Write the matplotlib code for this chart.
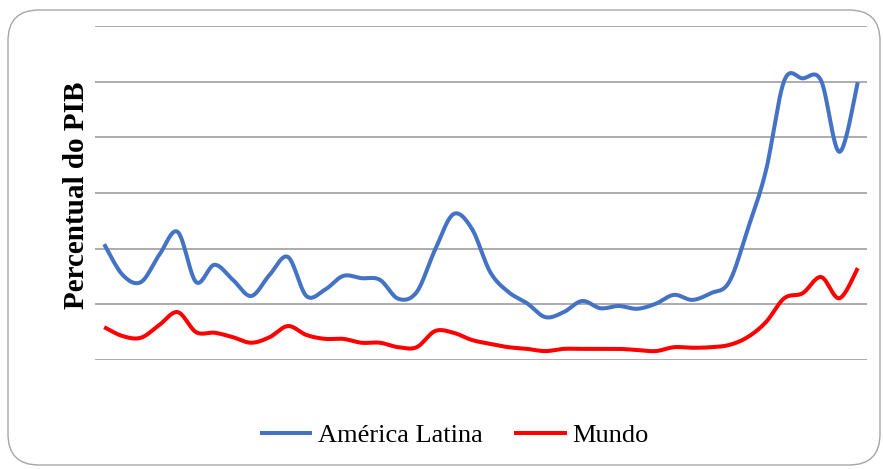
import numpy as np
import matplotlib.pyplot as plt
from matplotlib.patches import FancyBboxPatch

# valores em unidades de grade (sem rótulos no eixo)
america_latina = [2.08, 1.53, 1.40, 1.89, 2.30, 1.40, 1.71, 1.44, 1.15, 1.53,
                  1.85, 1.15, 1.26, 1.51, 1.47, 1.44, 1.10, 1.22, 1.98, 2.62,
                  2.36, 1.58, 1.22, 1.02, 0.77, 0.86, 1.06, 0.93, 0.97, 0.92,
                  1.01, 1.17, 1.08, 1.20, 1.40, 2.34, 3.40, 5.02, 5.06, 5.02,
                  3.74, 4.99]
mundo = [0.59, 0.43, 0.40, 0.63, 0.86, 0.50, 0.49, 0.41, 0.31, 0.41,
         0.61, 0.45, 0.38, 0.38, 0.31, 0.31, 0.23, 0.23, 0.52, 0.49,
         0.36, 0.29, 0.23, 0.20, 0.16, 0.20, 0.20, 0.20, 0.20, 0.18,
         0.16, 0.23, 0.22, 0.23, 0.27, 0.41, 0.68, 1.11, 1.20, 1.49,
         1.11, 1.65]
series = ["América Latina", "Mundo"]
cores = ["#4472C4", "#FF0000"]


def suavizar(y, n=24):
    # curva suavizada tipo Excel (bezier com pontos de controle Catmull-Rom)
    y = np.asarray(y, dtype=float)
    x = np.arange(len(y), dtype=float)
    xp = np.concatenate([[x[0]], x, [x[-1]]])
    yp = np.concatenate([[y[0]], y, [y[-1]]])
    t = np.linspace(0, 1, n)[:, None]
    xs, ys = [], []
    for i in range(len(y) - 1):
        j = i + 1
        p0 = np.array([xp[j], yp[j]])
        p3 = np.array([xp[j + 1], yp[j + 1]])
        c1 = p0 + (p3 - np.array([xp[j - 1], yp[j - 1]])) / 6
        c2 = p3 - (np.array([xp[j + 2], yp[j + 2]]) - p0) / 6
        b = (1 - t)**3 * p0 + 3 * (1 - t)**2 * t * c1 + 3 * (1 - t) * t**2 * c2 + t**3 * p3
        xs.append(b[:, 0])
        ys.append(b[:, 1])
    return np.concatenate(xs), np.concatenate(ys)


fig = plt.figure(figsize=(8.83, 4.69), dpi=100)
moldura = FancyBboxPatch((8 / 883, 4 / 469), 872 / 883, 455 / 469,
                         boxstyle="round,pad=0,rounding_size=0.035",
                         transform=fig.transFigure, fill=False,
                         edgecolor="#a6a6a6", linewidth=1.0,
                         mutation_aspect=883 / 469)
fig.patches.append(moldura)

ax = fig.add_axes([95 / 883, 1 - 360 / 469, 772 / 883, 334 / 469])
for nome, valores, cor in zip(series, [america_latina, mundo], cores):
    xs, ys = suavizar(valores)
    ax.plot(xs, ys, color=cor, linewidth=2.9, label=nome, solid_capstyle="butt")

ax.set_xlim(-0.5, len(america_latina) - 0.5)
ax.set_ylim(0, 6)
ax.set_yticks(np.arange(0, 7, 1))
ax.set_xticks([])
ax.tick_params(axis="y", length=0, labelleft=False)
ax.grid(axis="y", color="#a6a6a6", linewidth=1.3)
ax.set_axisbelow(True)
for s in ax.spines.values():
    s.set_visible(False)

fig.text(76 / 883, 1 - 195 / 469, "Percentual do PIB", rotation=90,
         fontsize=21, fontweight="bold", family="Liberation Serif",
         ha="center", va="center")

fig.legend(loc="center", bbox_to_anchor=(454 / 883, 1 - 435 / 469), ncol=2,
           frameon=False, prop={"family": "Liberation Serif", "size": 19},
           handlelength=2.0, handletextpad=0.2, columnspacing=1.2)

fig.savefig("out.png", dpi=100)
